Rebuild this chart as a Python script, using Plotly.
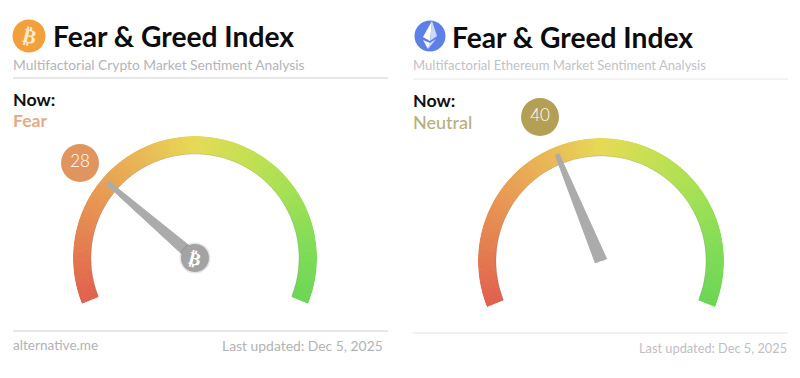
import numpy as np
import plotly.graph_objects as go

W, H = 800, 378
FONT = "Lato, Carlito, 'Open Sans', sans-serif"

# ---- data ----
values = [28, 40]
value_labels = ["28", "40"]
states = ["Fear", "Neutral"]
state_colors = ["#e5ab88", "#b7b07e"]
badge_colors = ["#e0955f", "#b3a055"]
titles = ["Fear & Greed Index", "Fear & Greed Index"]
subtitles = ["Multifactorial Crypto Market Sentiment Analysis",
             "Multifactorial Ethereum Market Sentiment Analysis"]
footers_right = ["Last updated: Dec 5, 2025", "Last updated: Dec 5, 2025"]
footer_left = "alternative.me"
scale_stops = [0, 12, 25, 38, 50, 62, 75, 88, 100]
scale_colors = ["#e0604e", "#e47c50", "#e89a54", "#e9b956", "#e6da55",
                "#c5e052", "#a3e055", "#80dc57", "#6cd655"]
needle_r = [115, 115, 6, 6]
needle_offset_deg = [-1.0, 1.0, 90, -90]

# ---- layout constants ----
SWEEP = 224.0
START = 202.0
centers = [(195, 258), (601, 261)]
R_OUT = [122, 123]
R_IN = [104, 105]
badge_xy = [(80, 163), (540, 117)]
yt = dict(title=[36, 37], sub=[64, 65], now=[99, 100], state=[120, 122], foot=[345, 348])
left_x = [11, 411]
rule_colors = ["#cfcfd2", "#e6e6e8"]
rule_y = [(78, 331), (79, 333)]
rule_x = [(13, 388), (413, 788)]

fig = go.Figure()
colorscale = [[s / 100, c] for s, c in zip(scale_stops, scale_colors)]
sec = 22 * np.pi / 180

layout_extra = {}
for i, (v, (cx, cy)) in enumerate(zip(values, centers)):
    pid = "polar" if i == 0 else "polar2"
    Ro, Ri = R_OUT[i], R_IN[i]
    dom_x = [(cx - Ro) / W, (cx + Ro) / W]
    top, bot = cy - Ro, cy + Ro * np.sin(sec)
    dom_y = [1 - bot / H, 1 - top / H]
    layout_extra[pid] = dict(
        domain=dict(x=dom_x, y=dom_y),
        sector=[-22, 202],
        bgcolor="rgba(0,0,0,0)",
        radialaxis=dict(visible=False, range=[0, Ro]),
        angularaxis=dict(visible=False, rotation=START, direction="clockwise",
                         thetaunit="degrees", type="linear"),
    )
    levels = np.linspace(0.25, 99.75, 200)
    fig.add_trace(go.Barpolar(
        subplot=pid, r=[Ro - Ri] * len(levels), base=[Ri] * len(levels),
        theta=levels * SWEEP / 100, width=[SWEEP / 200 * 1.3] * len(levels),
        marker=dict(color=levels, colorscale=colorscale, cmin=0, cmax=100,
                    line=dict(width=0)),
        hoverinfo="skip", showlegend=False))
    # faint inner edge of the band
    fig.add_trace(go.Scatterpolar(
        subplot=pid, r=[Ri] * len(levels), theta=levels * SWEEP / 100, mode="lines",
        line=dict(color="rgba(110,110,110,0.22)", width=1),
        hoverinfo="skip", showlegend=False))
    th = v * SWEEP / 100
    fig.add_trace(go.Scatterpolar(
        subplot=pid, r=needle_r + needle_r[:1],
        theta=[th + o for o in needle_offset_deg + needle_offset_deg[:1]],
        mode="lines", fill="toself", fillcolor="#ababab",
        line=dict(color="#ababab", width=1), cliponaxis=False,
        hoverinfo="skip", showlegend=False))
    if i == 0:
        fig.add_trace(go.Scatterpolar(
            subplot=pid, r=[0, 0], theta=[0, 0], mode="markers",
            marker=dict(size=[31, 28], color=["rgba(0,0,0,0.10)", "#a3a3a3"], opacity=1,
                        line=dict(width=0)),
            cliponaxis=False, hoverinfo="skip", showlegend=False))

# value badges
fig.add_trace(go.Scatter(
    x=[p[0] for p in badge_xy], y=[p[1] for p in badge_xy],
    mode="markers+text", text=value_labels, textposition="middle center",
    textfont=dict(color="white", size=17, family=FONT, weight=300),
    marker=dict(size=38, color=badge_colors, opacity=1, line=dict(width=0)),
    hoverinfo="skip", showlegend=False))
# brand icon discs
fig.add_trace(go.Scatter(
    x=[29, 430], y=[36, 36], mode="markers",
    marker=dict(size=[33, 31], color=["#f2a03c", "#5d80e6"], opacity=1, line=dict(width=0)),
    hoverinfo="skip", showlegend=False))

ann = []
def T(x, y, text, size, color, weight="normal", anchor="left", **kw):
    ann.append(dict(x=x, y=y, xref="x", yref="y", text=text, showarrow=False,
                    xanchor=anchor, yanchor="middle",
                    font=dict(family=kw.pop("family", FONT), size=size, color=color, weight=weight),
                    **kw))

T(29, 36, "\u20bf", 20, "#fdeacb", "bold", "center", family="DejaVu Sans", textangle=14)
T(195, 258, "\u20bf", 18, "#ffffff", "bold", "center", family="DejaVu Sans", textangle=14)
sub_sizes = [13.8, 13.1]
now_sizes = [17.8, 17.8]
state_sizes = [17.6, 18]
foot_sizes = [13.9, 12.8]
for i in range(2):
    T(51 if i == 0 else 450, yt["title"][i], titles[i], 28.2, "#0c0c0c", "bold")
    T(left_x[i], yt["sub"][i], subtitles[i], sub_sizes[i], "#b4b4b8" if i == 0 else "#c2c2c6")
    T(left_x[i], yt["now"][i], "Now:", now_sizes[i], "#111111", "bold")
    T(left_x[i], yt["state"][i], states[i], state_sizes[i], state_colors[i], "bold" if i == 0 else 500)
    T(385 if i == 0 else 789, yt["foot"][i], footers_right[i], foot_sizes[i],
      "#b2b2b6" if i == 0 else "#c0c0c4", "normal", "right")
T(11, 345, footer_left, 13.6, "#b2b2b6")

shapes = []
for i in range(2):
    for y in rule_y[i]:
        shapes.append(dict(type="line", xref="x", yref="y", x0=rule_x[i][0], x1=rule_x[i][1],
                           y0=y, y1=y, line=dict(color=rule_colors[i], width=1)))
# Ethereum diamond on its disc
for path, col in [
    ("M 432 21 L 423 37 L 430 41 Z", "#ffffff"),
    ("M 432 21 L 430 41 L 437 36 Z", "#cdd8f7"),
    ("M 423 40 L 428 49 L 430 43 Z", "#ffffff"),
    ("M 430 43 L 428 49 L 436 39 Z", "#d8e0f9"),
]:
    shapes.append(dict(type="path", xref="x", yref="y", path=path, fillcolor=col, line=dict(width=0),
                       layer="above"))

fig.update_layout(
    width=W, height=H, margin=dict(l=0, r=0, t=0, b=0), autosize=False,
    paper_bgcolor="white", plot_bgcolor="white", showlegend=False,
    xaxis=dict(visible=False, range=[0, W], domain=[0, 1], fixedrange=True),
    yaxis=dict(visible=False, range=[H, 0], domain=[0, 1], fixedrange=True),
    annotations=ann, shapes=shapes, **layout_extra)

fig.write_html("out.html", config=dict(displayModeBar=False),
               post_script="document.body.style.margin='0';document.body.style.overflow='hidden';")
